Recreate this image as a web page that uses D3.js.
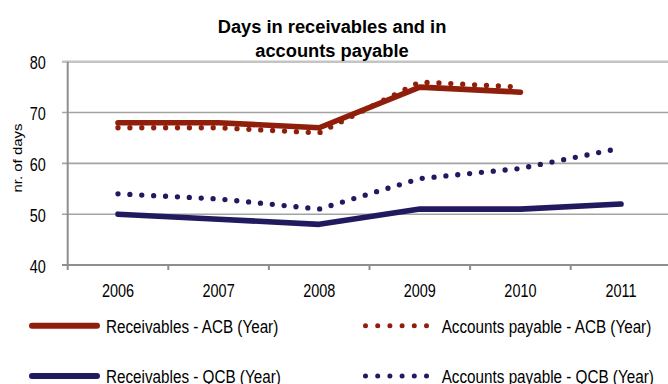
<!DOCTYPE html>
<html><head><meta charset="utf-8">
<script src="https://cdn.jsdelivr.net/npm/d3@7"></script>
<style>body{margin:0;background:#fff;} svg{display:block;}</style>
</head><body><svg id="c" width="668" height="384"></svg>
<script>
// ---- data ----
const years = ["2006","2007","2008","2009","2010","2011"];
const recACB = [68, 68, 67, 75, 74, null];
const apACB  = [67, 67, 66, 76, 75, null];
const recQCB = [50, 49, 48, 51, 51, 52];
const apQCB  = [54, 53, 51, 57, 59, 63];
const yTicks = [40, 50, 60, 70, 80];
const titleLines = ["Days in receivables and in", "accounts payable"];
const yLabel = "nr. of days";
const seriesNames = ["Receivables - ACB (Year)", "Accounts payable - ACB (Year)",
                     "Receivables - QCB (Year)", "Accounts payable - QCB (Year)"];

(function () {
const RED = "#8f1f0b", BLUE = "#211a5f";
const series = [
  {name: seriesNames[0], values: recACB, color: RED,  dotted: false},
  {name: seriesNames[1], values: apACB,  color: RED,  dotted: true},
  {name: seriesNames[2], values: recQCB, color: BLUE, dotted: false},
  {name: seriesNames[3], values: apQCB,  color: BLUE, dotted: true}
];

const SANS = "'Liberation Sans',Arial,Helvetica,sans-serif";
const NX = 0.825; // horizontal condensing to emulate a narrow face

const svg = d3.select("#c");
const pLeft = 67.7, pRight = 671.3, pTop = 61.7, pBottom = 265;

const x = d3.scaleBand().domain(years).range([pLeft, pRight]);
const cx = d => x(d) + x.bandwidth() / 2;
const y = d3.scaleLinear().domain([40, 80]).range([pBottom, pTop]);

// gridlines
svg.append("g").selectAll("line").data(yTicks.filter(t => t > 40)).join("line")
  .attr("x1", 62).attr("x2", 668)
  .attr("y1", d => y(d)).attr("y2", d => y(d))
  .attr("stroke", d => d === 80 ? "#c4c4c4" : "#a4a4a4")
  .attr("stroke-width", d => d === 80 ? 2.5 : 1.6);

// axis lines
svg.append("line").attr("x1", pLeft).attr("x2", pLeft).attr("y1", y(80)).attr("y2", pBottom + 5)
  .attr("stroke", "#8e8e8e").attr("stroke-width", 2);
svg.append("line").attr("x1", 62).attr("x2", 668).attr("y1", pBottom).attr("y2", pBottom)
  .attr("stroke", "#8e8e8e").attr("stroke-width", 2);
// x tick marks at category boundaries
svg.append("g").selectAll("line").data(years.slice(1)).join("line")
  .attr("x1", d => x(d)).attr("x2", d => x(d)).attr("y1", pBottom).attr("y2", pBottom + 5)
  .attr("stroke", "#8e8e8e").attr("stroke-width", 2);

// y axis labels
const ya = svg.append("g").attr("transform", `translate(${pLeft},0)`)
  .call(d3.axisLeft(y).tickValues(yTicks).tickSize(0).tickPadding(22));
ya.select(".domain").remove();
ya.selectAll("text").attr("font-family", SANS).attr("font-size", 17.5).attr("fill", "#000")
  .attr("x", -22 / NX).attr("transform", `scale(${NX},1)`).attr("dy", "0.40em");

// x axis labels
const xa = svg.append("g").attr("transform", `translate(0,${pBottom})`)
  .call(d3.axisBottom(x).tickSize(0).tickPadding(19.3));
xa.select(".domain").remove();
xa.selectAll("text").attr("font-family", SANS).attr("font-size", 17.5).attr("fill", "#000")
  .attr("transform", `scale(${NX},1)`);

// lines
const line = d3.line().defined(v => v != null).x((v, i) => cx(years[i])).y(v => y(v));
series.forEach(s => {
  const p = svg.append("path").datum(s.values).attr("d", line)
    .attr("fill", "none").attr("stroke", s.color)
    .attr("stroke-linecap", "round").attr("stroke-linejoin", "round");
  if (s.dotted) p.attr("stroke-width", 5.3).attr("stroke-dasharray", "0 11.9");
  else p.attr("stroke-width", 5.6);
});

// title
svg.append("text").attr("text-anchor", "middle")
  .attr("font-family", SANS).attr("font-weight", "bold").attr("font-size", 18.3).attr("fill", "#000")
  .selectAll("tspan").data(titleLines).join("tspan")
  .attr("x", 332).attr("y", (d, i) => 33.3 + i * 23.4).text(d => d);

// y label
svg.append("text").attr("transform", "translate(22,158) scale(0.84,1) rotate(-90)")
  .attr("text-anchor", "middle").attr("font-family", SANS).attr("font-size", 15).attr("fill", "#000")
  .text(yLabel);

// legend
const legRows = [325.7, 376];
const legCols = [{lx1: 32, lx2: 97, tx: 106}, {lx1: 365.5, lx2: 426.5, tx: 441.7}];
series.forEach((s, i) => {
  const col = legCols[i % 2], ry = legRows[Math.floor(i / 2)];
  const g = svg.append("g");
  const l = g.append("line").attr("x1", col.lx1).attr("x2", col.lx2).attr("y1", ry).attr("y2", ry)
    .attr("stroke", s.color).attr("stroke-linecap", "round");
  if (s.dotted) l.attr("stroke-width", 5).attr("stroke-dasharray", "0 12.2");
  else l.attr("stroke-width", 6);
  g.append("text").attr("transform", `translate(${col.tx},${ry + 7.4}) scale(${NX},1)`)
    .attr("font-family", SANS).attr("font-size", 18.5).attr("fill", "#000").text(s.name);
});
})();
</script></body></html>
